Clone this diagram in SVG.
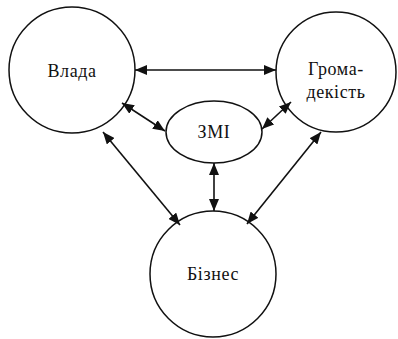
<svg xmlns="http://www.w3.org/2000/svg" width="398" height="339" viewBox="0 0 398 339">
<style>
.n{fill:#fff;stroke:#111;stroke-width:1.5}
.t{font-family:"Liberation Serif","Times New Roman",serif;font-size:18px;letter-spacing:0.6px;fill:#111;text-anchor:middle}
.c line{stroke:#111;stroke-width:1.6;marker-start:url(#a);marker-end:url(#a)}
</style>
<defs>
<marker id="a" viewBox="0 0 12 10" refX="12" refY="5" markerWidth="12" markerHeight="10" markerUnits="userSpaceOnUse" orient="auto-start-reverse">
<path d="M0,0 L12,5 L0,10 Z" fill="#111"/>
</marker>
</defs>
<rect width="398" height="339" fill="#fff"/>
<g id="vlada"><circle class="n" cx="72" cy="70" r="63"/><text class="t" x="72" y="77">Влада</text></g>
<g id="hromadskist"><circle class="n" cx="336" cy="72" r="60"/><text class="t" x="336" y="75">Грома-</text><text class="t" x="336" y="98">декість</text></g>
<g id="zmi"><ellipse class="n" cx="214" cy="132" rx="48" ry="31"/><text class="t" x="214" y="138">ЗМІ</text></g>
<g id="biznes"><circle class="n" cx="213" cy="274" r="63"/><text class="t" x="213" y="280">Бізнес</text></g>
<g class="c" id="connectors">
<line x1="135" y1="70" x2="276" y2="70"/>
<line x1="122" y1="103" x2="165" y2="131"/>
<line x1="291" y1="102" x2="262" y2="129"/>
<line x1="214" y1="163" x2="214" y2="211"/>
<line x1="103" y1="132" x2="180" y2="225"/>
<line x1="321" y1="132" x2="247" y2="224"/>
</g>
</svg>
